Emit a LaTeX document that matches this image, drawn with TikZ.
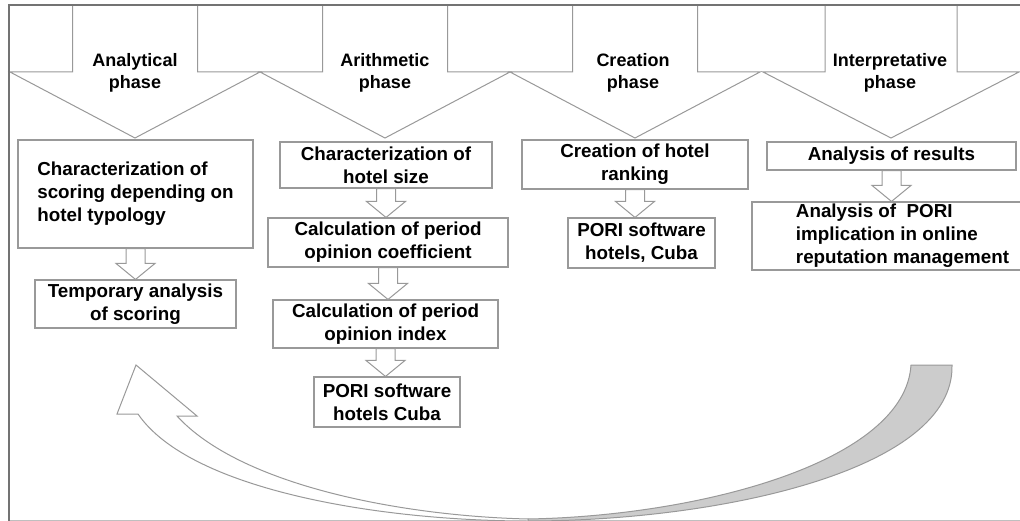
\documentclass[tikz,border=0pt]{standalone}
\usepackage{fontspec}
\setmainfont{Liberation Sans}
\usetikzlibrary{calc}
\tikzset{
  frameline/.style={draw=black!55, line width=1.2pt},
  phasearrow/.style={draw=black!40, fill=white, line width=1pt, line join=miter},
  phasetext/.style={font=\bfseries\fontsize{18}{22}\selectfont, align=center, inner sep=0pt},
  stepbox/.style={draw=black!40, fill=white, line width=1.1pt, align=center, inner sep=0pt,
    font=\bfseries\fontsize{18.8}{23}\selectfont},
  hollowarr/.style={draw=black!40, fill=white, line width=1pt, line join=miter},
  bandwhite/.style={draw=black!40, fill=white, line width=1pt, line join=miter},
  bandgray/.style={draw=black!40, fill=black!20, line width=1pt},
}
\newcommand\hollowdown[2]{%
  \draw[hollowarr] let \p1=(#1.south), \p2=(#2.north) in
    (\x1-9.5pt,\y1) -- (\x1+9.5pt,\y1) -- (\x1+9.5pt,\y2+16pt) -- (\x1+19.5pt,\y2+16pt)
    -- (\x1,\y2) -- (\x1-19.5pt,\y2+16pt) -- (\x1-9.5pt,\y2+16pt) -- cycle;}
\begin{document}
\begin{tikzpicture}[x=1pt,y=-1pt]
\useasboundingbox (0,0) rectangle (1020,521);
\begin{scope}
\clip (0,0) rectangle (1020,521);
% frame
\draw[draw=black!25, line width=0.8pt] (9,520) -- (1020,520);
% top phase arrows
\foreach \c/\h/\s in {135/125/62.5, 385/125/62.5, 635/125/62.5, 891/128/66}{
  \draw[phasearrow] (\c-\s,5) -- (\c-\s,72) -- (\c-\h,72) -- (\c,138) -- (\c+\h,72)
    -- (\c+\s,72) -- (\c+\s,5);
}
\draw[frameline] (9,521) -- (9,5) -- (1020,5);
\node[phasetext] (p1) at (135,73) {Analytical\\phase};
\node[phasetext] (p2) at (385,73) {Arithmetic\\phase};
\node[phasetext] (p3) at (633,73) {Creation\\phase};
\node[phasetext] (p4) at (890,73) {Interpretative\\phase};

% boxes column 1
\node[stepbox, align=left, minimum width=235, minimum height=108] (A1) at (135.5,194)
  {Characterization of\\scoring depending on\\hotel typology};
\node[stepbox, minimum width=201, minimum height=48] (A2) at (135.5,304)
  {Temporary analysis\\of scoring};
% column 2
\node[stepbox, minimum width=212, minimum height=46] (B1) at (386,165)
  {Characterization of\\hotel size};
\node[stepbox, minimum width=240, minimum height=49] (B2) at (388,242.5)
  {Calculation of period\\opinion coefficient};
\node[stepbox, minimum width=225, minimum height=48] (B3) at (385.5,324)
  {Calculation of period\\opinion index};
\node[stepbox, minimum width=146, minimum height=50] (B4) at (387,402)
  {PORI software\\hotels Cuba};
% column 3
\node[stepbox, minimum width=226, minimum height=49] (C1) at (635,164.5)
  {Creation of hotel\\ranking};
\node[stepbox, minimum width=147, minimum height=50] (C2) at (641.5,243)
  {PORI software\\hotels, Cuba};
% column 4
\node[stepbox, minimum width=249, minimum height=28] (D1) at (891.5,156)
  {Analysis of results};
\node[stepbox, align=left, minimum width=301, minimum height=68] (D2) at (902.5,236)
  {Analysis of\ \ PORI\\implication in online\\reputation management};

% small hollow arrows
\hollowdown{A1}{A2}
\hollowdown{B1}{B2}
\hollowdown{B2}{B3}
\hollowdown{B3}{B4}
\hollowdown{C1}{C2}
\hollowdown{D1}{D2}

% big curved return arrow
\coordinate (tipL) at (136,365);
\coordinate (endR) at (952,365);
\draw[bandgray] (528,519) .. controls (700,516) and (905,462) .. (911,365)
  -- (endR) .. controls (955,470) and (720,521) .. (528,521) -- cycle;
\draw[bandwhite] (117,414) -- (tipL) -- (197,416) -- (177,416)
  .. controls (240,485) and (400,516) .. (528,519)
  -- (528,521) .. controls (380,521) and (190,490) .. (138,414) -- cycle;
\end{scope}
\end{tikzpicture}
\end{document}
